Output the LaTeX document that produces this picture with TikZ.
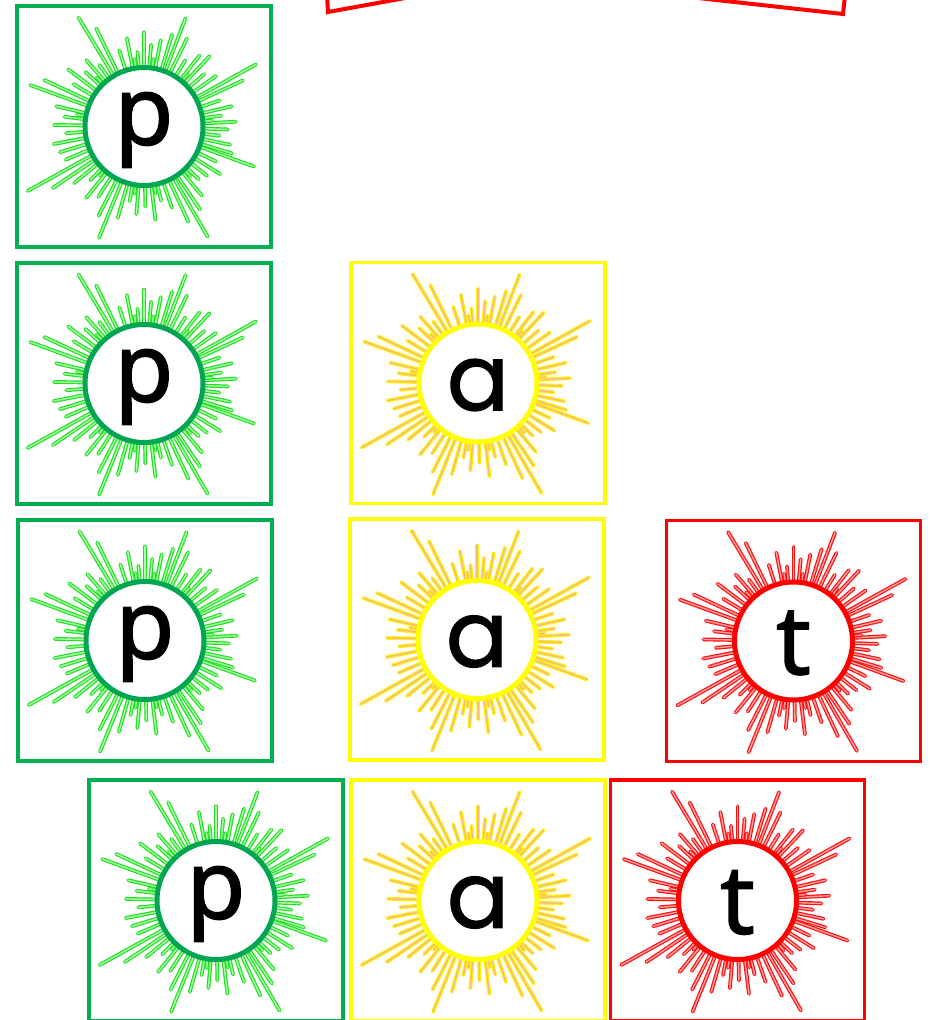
\documentclass[tikz,border=0pt]{standalone}
\usepackage{fontspec}
\newfontfamily\lfont[FakeBold=1.5]{Noto Sans}
\newfontfamily\afont[FakeBold=1.2]{Poppins}
\definecolor{gframe}{HTML}{00B050}
\definecolor{gcirc}{HTML}{00A651}
\definecolor{grayo}{HTML}{22E022}
\definecolor{grayi}{HTML}{A8FFA8}
\definecolor{yframe}{HTML}{FFFF00}
\definecolor{yrayo}{HTML}{FFF200}
\definecolor{yrayi}{HTML}{F6B98E}
\definecolor{rframe}{HTML}{FF0000}
\definecolor{rrayo}{HTML}{FF1010}
\definecolor{rrayi}{HTML}{FFA0A0}
\def\raylist{121/127,116/109,108/80,101/90,95/75,90/94,85/82,79/88,73/96,69/116,64/98,58/78,
52/90,47/96,41/80,35/88,29/128,25/109,19/80,
13/90,8/78,3/92,-2/84,-7/76,-12/88,-17/92,-20/117,-26/80,
-32/90,-38/80,-44/76,-50/90,-56/100,-60/127,-65/105,
-71/86,-77/76,-83/94,-89/80,-95/88,-101/76,-106/95,-112/120,-117/100,
-123/84,-129/92,-135/76,-141/90,-146/110,-151/133,-157/85,
-163/88,-169/92,-175/78,179/90,173/80,167/90,160/121,155/110,149/82,
143/95,137/80,131/88,126/76,
98/68,82/68,50/68,5/68,-47/68,-80/68,-98/68,-132/66,170/68,134/68}
\tikzset{
  frame/.style={draw=#1, line width=3.5pt, minimum width=254pt, minimum height=241pt, inner sep=0pt, outer sep=0pt},
  disc/.style={circle, draw=#1, line width=5pt, fill=white, minimum size=118pt, inner sep=0pt},
  letter/.style={font=\lfont\fontsize{96}{96}\selectfont, inner sep=0pt, text=black},
  aletter/.style={font=\afont\fontsize{92}{92}\selectfont, inner sep=0pt, text=black},
  ray/.style 2 args={draw=#1, double=#2, line width=1.2pt, double distance=1.4pt, line cap=round},
  topshape/.style={draw=rframe, line width=4pt},
}
\newcommand\sunrays[3]{%
  \begin{scope}[shift={#1}, yscale=-1]
    \foreach \a/\l in \raylist { \draw[ray={#2}{#3}] (\a:58) -- (\a:\l); }
  \end{scope}}
\newcommand\lettertile[7]{% name, center, frame colour, ray outer, ray inner, circle colour, letter node
  \node[frame=#3] (#1) at #2 {};
  \sunrays{#2}{#4}{#5}
  \node[disc=#6] (#1c) at #2 {};
  #7
}
\begin{document}
\begin{tikzpicture}[x=1pt, y=-1pt]
  \useasboundingbox (0,0) rectangle (933,1020);
  \fill[white] (0,0) rectangle (933,1020);
  % partial red shapes at the top
  \draw[topshape] (327,-4) -- (328,12) -- (416,-4);
  \draw[topshape] (845,-4) -- (843,14) -- (680,-4);
  % row 1
  \lettertile{t1}{(144,126.5)}{gframe}{grayo}{grayi}{gcirc}{\node[letter] (l1) at (144,130) {p};}
  % row 2
  \lettertile{t2}{(144,383.5)}{gframe}{grayo}{grayi}{gcirc}{\node[letter] (l2) at (144,387) {p};}
  \lettertile{t3}{(478,383)}{yframe}{yrayo}{yrayi}{yframe}{\node[aletter] (l3) at (478,385) {a};}
  % row 3
  \lettertile{t4}{(145,640.5)}{gframe}{grayo}{grayi}{gcirc}{\node[letter] (l4) at (145,644) {p};}
  \lettertile{t5}{(477,639.5)}{yframe}{yrayo}{yrayi}{yframe}{\node[aletter] (l5) at (477,641.5) {a};}
  \lettertile{t6}{(793.5,641)}{rframe}{rrayo}{rrayi}{rframe}{\node[letter] (l6) at (793.5,643) {t};}
  % row 4
  \lettertile{t7}{(216,900.5)}{gframe}{grayo}{grayi}{gcirc}{\node[letter] (l7) at (216,904) {p};}
  \lettertile{t8}{(478,900.5)}{yframe}{yrayo}{yrayi}{yframe}{\node[aletter] (l8) at (478,902.5) {a};}
  \lettertile{t9}{(737.5,900.5)}{rframe}{rrayo}{rrayi}{rframe}{\node[letter] (l9) at (737.5,902.5) {t};}
\end{tikzpicture}
\end{document}
